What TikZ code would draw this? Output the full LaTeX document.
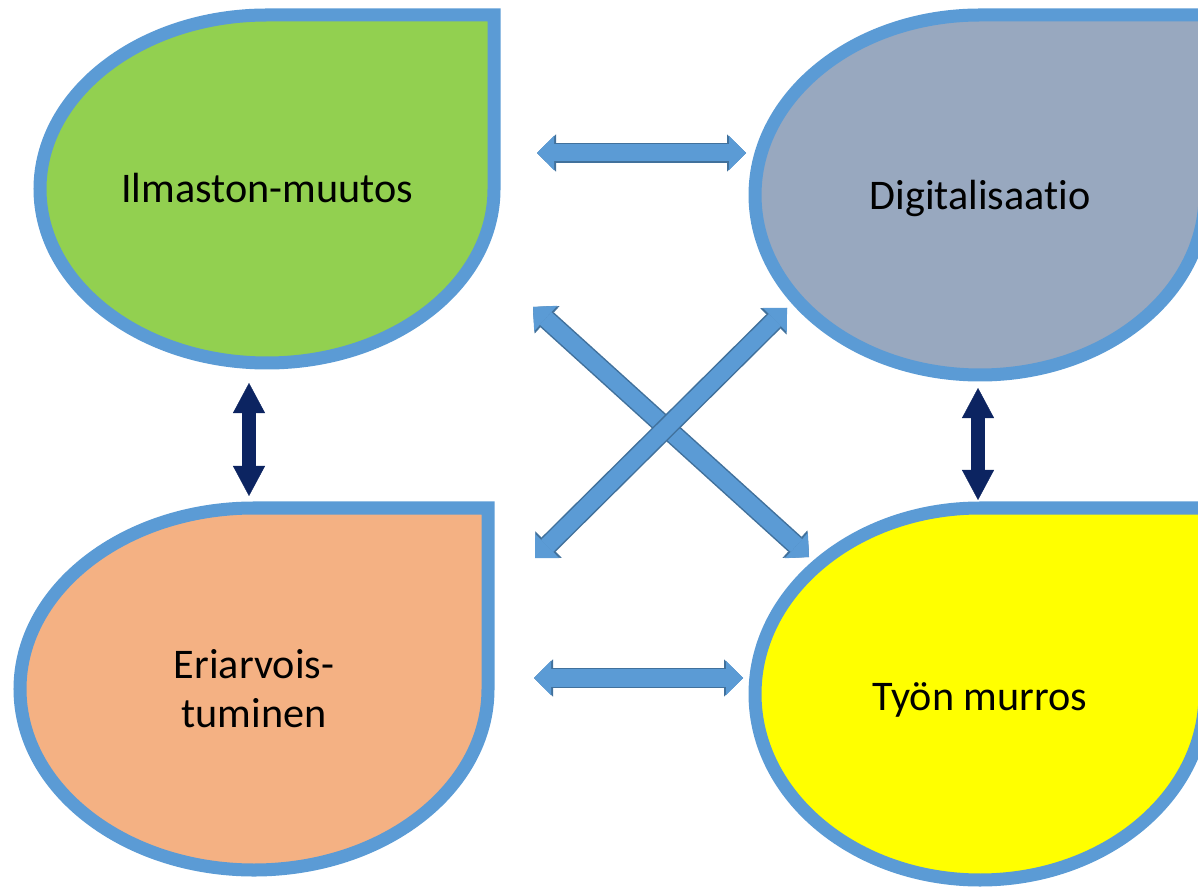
\documentclass[tikz,border=0pt]{standalone}
\usepackage{fontspec}
\setmainfont{Carlito}[Ligatures=CommonOff]
\usepackage{tikz}
\usetikzlibrary{arrows.meta,positioning}
\definecolor{reuna}{HTML}{5B9BD5}
\definecolor{nuolireuna}{HTML}{41719C}
\definecolor{tummasini}{HTML}{0C2461}
\definecolor{vihrea}{HTML}{92D050}
\definecolor{harmaa}{HTML}{98A8BF}
\definecolor{lohi}{HTML}{F4B183}
\definecolor{keltainen}{HTML}{FFFF00}
\tikzset{
  reunus/.style={draw=reuna, line width=0.13cm, line join=miter},
  teksti/.style={font=\fontsize{12}{14}\selectfont, align=center},
  nuoli/.style={reuna, line width=0.17cm,
    {Triangle[width=0.34cm,length=0.17cm,line width=0.1pt]}-{Triangle[width=0.34cm,length=0.17cm,line width=0.1pt]},
    preaction={draw, nuolireuna, line width=0.2cm,
      {Triangle[width=0.37cm,length=0.19cm,line width=0.1pt]}-{Triangle[width=0.37cm,length=0.19cm,line width=0.1pt]}}},
  tummanuoli/.style={tummasini, line width=0.14cm,
    {Triangle[width=0.32cm,length=0.3cm,line width=0.1pt]}-{Triangle[width=0.32cm,length=0.3cm,line width=0.1pt]}}
}
% keskipiste x, y, sade x, sade y, tayttovari
\newcommand{\pisara}[5]{%
  \filldraw[reunus, fill=#5] (#1,#2+#4) -- (#1+#3,#2+#4) -- (#1+#3,#2)
    arc[start angle=0, end angle=-180, x radius=#3, y radius=#4]
    arc[start angle=180, end angle=90, x radius=#3, y radius=#4] -- cycle;}

\begin{document}
\begin{tikzpicture}[x=0.01cm, y=0.01cm]
  \useasboundingbox (0,0) rectangle (1198,888);
  \clip (0,0) rectangle (1198,888);
  \pisara{267}{699}{227}{174}{vihrea}
  \pisara{980}{693}{225}{180}{harmaa}
  \pisara{254}{199}{234}{181}{lohi}
  \pisara{980}{194}{225}{186}{keltainen}
  \path (267,685) node[teksti, anchor=base] (ilmasto) {Ilmaston-muutos}
        (980,678) node[teksti, anchor=base] (digi) {Digitalisaatio}
        (254,199) node[teksti] (eriarvo) {Eriarvois-\\tuminen}
        (980,178) node[teksti, anchor=base] (tyo) {Työn murros};
  % nuolten paat
  \coordinate (a1) at (537,735);  \coordinate (a2) at (746,735);
  \coordinate (b1) at (534,210);  \coordinate (b2) at (743,210);
  \coordinate (c1) at (533,581);  \coordinate (c2) at (809,331);
  \coordinate (d1) at (787,580);  \coordinate (d2) at (535,330);
  \coordinate (e1) at (249,505);  \coordinate (e2) at (249,392);
  \coordinate (f1) at (978,500);  \coordinate (f2) at (978,388);
  \draw [nuoli] (a1) to (a2);
  \draw [nuoli] (b1) to (b2);
  \draw [nuoli] (c1) to (c2);
  \draw [nuoli] (d1) to (d2);
  \draw [tummanuoli] (e1) to (e2);
  \draw [tummanuoli] (f1) to (f2);
\end{tikzpicture}
\end{document}
